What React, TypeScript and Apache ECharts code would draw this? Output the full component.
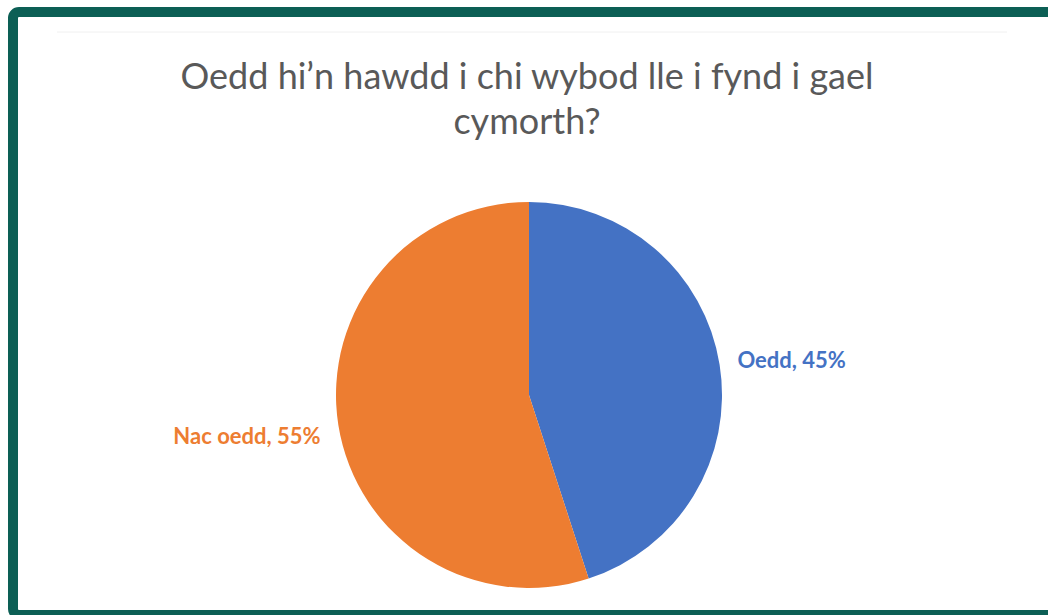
import React, { useEffect, useRef } from "react";
import * as echarts from "echarts";

const titleLines = ["Oedd hi’n hawdd i chi wybod lle i fynd i gael", "cymorth?"];
const categories = ["Oedd", "Nac oedd"];
const values = [45, 55];
const colors = ["#4472C4", "#ED7D31"];

export default function App() {
  const ref = useRef<HTMLDivElement>(null);
  useEffect(() => {
    if (!ref.current) return;
    const chart = echarts.init(ref.current, null, { renderer: "svg" });
    const font = "Lato, 'Open Sans', sans-serif";
    chart.setOption({
      animation: false,
      backgroundColor: "#ffffff",
      graphic: [
        {
          type: "line",
          shape: { x1: 57, y1: 32, x2: 1007, y2: 32 },
          style: { stroke: "#f0f0f0", lineWidth: 1 },
          z: 1,
        },
        {
          type: "rect",
          shape: { x: 13, y: 12, width: 1045, height: 603, r: 6 },
          style: { fill: "none", stroke: "#0C5F55", lineWidth: 10 },
          z: 10,
        },
        {
          type: "text",
          x: 527,
          y: 97,
          style: {
            text: titleLines.join("\n"),
            fill: "#595959",
            font: `normal 36px ${font}`,
            align: "center",
            verticalAlign: "middle",
            lineHeight: 45,
          },
          z: 5,
        },
      ],
      series: [
        {
          type: "pie",
          center: [529, 395],
          radius: 193,
          startAngle: 90,
          clockwise: true,
          avoidLabelOverlap: false,
          data: categories.map((c, i) => ({
            name: c,
            value: values[i],
            itemStyle: { color: colors[i] },
            label: { color: colors[i] },
          })),
          itemStyle: { borderColor: "#ffffff", borderWidth: 0 },
          label: {
            show: true,
            position: "outside",
            formatter: (p: any) => `${p.name}, ${p.value}%`,
            fontFamily: font,
            fontWeight: "bold",
            fontSize: 22,
          },
          labelLayout: (p: any) => ({ dy: p.dataIndex === 0 ? -3 : 8 }),
          labelLine: { show: false, length: 13, length2: 0 },
          emphasis: { disabled: true },
        },
      ],
    });
    return () => chart.dispose();
  }, []);
  return (
    <div
      ref={ref}
      style={{ position: "fixed", left: 0, top: 0, width: 1048, height: 615 }}
    />
  );
}
